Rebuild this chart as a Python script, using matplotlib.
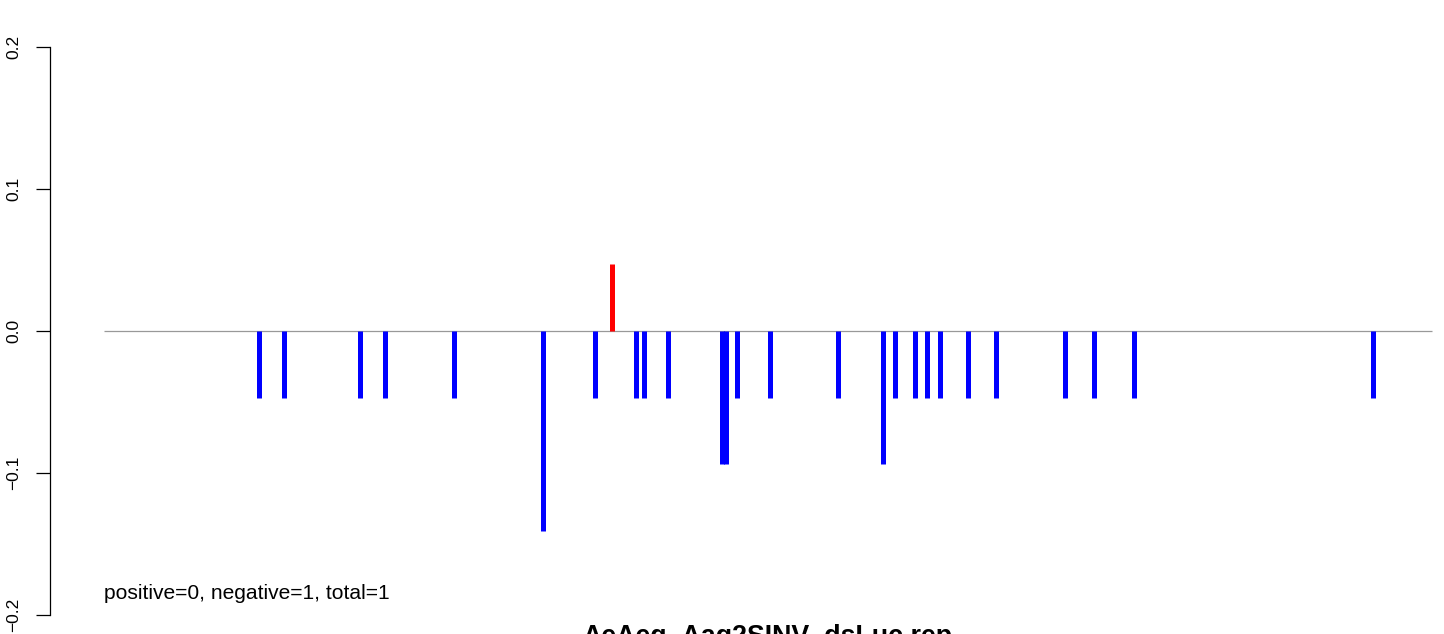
import numpy as np
import matplotlib.pyplot as plt

plt.rcParams['font.family'] = ['Liberation Sans', 'DejaVu Sans']

# positions along the sequence (arbitrary units, axis hidden) and scores
pos = [155, 180, 256, 281, 350, 439, 491, 508, 532, 540, 564, 617.5, 621.5,
       633, 666, 734, 779, 791, 811, 823, 836, 864, 892, 961, 990, 1030, 1269]
score = [-0.047, -0.047, -0.047, -0.047, -0.047, -0.141, -0.047, 0.047,
         -0.047, -0.047, -0.047, -0.094, -0.094, -0.047, -0.047, -0.047,
         -0.094, -0.047, -0.047, -0.047, -0.047, -0.047, -0.047, -0.047,
         -0.047, -0.047, -0.047]
seq_start = 0
seq_end = 1328
yticks = [-0.2, -0.1, 0.0, 0.1, 0.2]
ylabels = ['\u22120.2', '\u22120.1', '0.0', '0.1', '0.2']
title = 'AeAeg_Aag2SINV_dsLuc.rep'
info = 'positive=0, negative=1, total=1'

pos = np.array(pos)
score = np.array(score)
cols = np.where(score > 0, '#FF0000', '#0000FF')

W, H = 1444, 634
fig = plt.figure(figsize=(W / 100, H / 100), dpi=100)
ax = fig.add_axes([50 / W, 1 - 615 / H, 1 - 50 / W, (615 - 46.7) / H])

ax.hlines(0, seq_start, seq_end, color='#999999', lw=0.9, zorder=1)
ax.vlines(pos, 0, score, colors=cols, lw=3.6, capstyle='butt', zorder=2)

ax.set_xlim(-54, 1340)
ax.set_ylim(-0.2, 0.2)

for s in ['top', 'right', 'bottom']:
    ax.spines[s].set_visible(False)
ax.spines['left'].set_linewidth(0.9)
ax.set_xticks([])
ax.set_yticks(yticks)
ax.set_yticklabels(ylabels, rotation=90, va='center')
ax.tick_params(axis='y', length=9.8, width=0.9, pad=11, labelsize=12.5)

ax.text(0, -0.189, info, fontsize=15.1, ha='left', va='baseline')
fig.text(767 / W, 1 - 644 / H, title, fontsize=19.3, fontweight='bold',
         ha='center', va='baseline')

fig.savefig('out.png', dpi=100)
